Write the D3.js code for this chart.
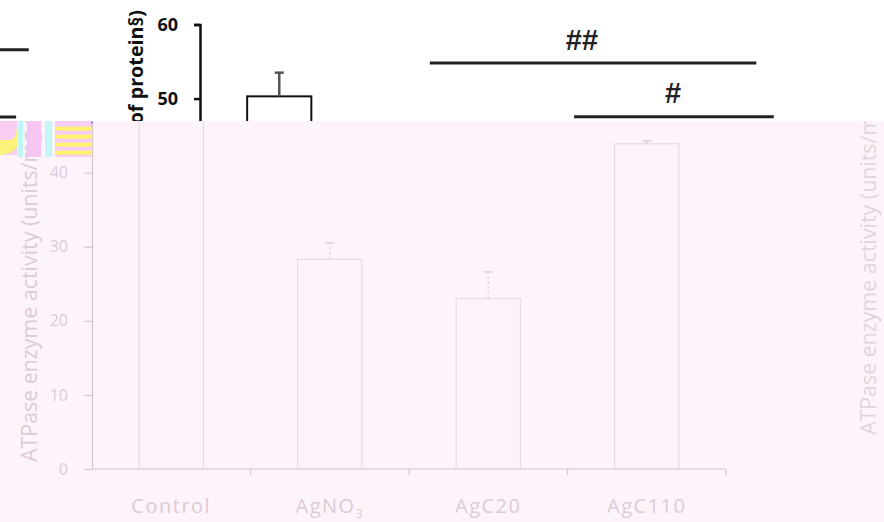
<!DOCTYPE html>
<html>
<head>
<meta charset="utf-8">
<script src="https://cdn.jsdelivr.net/npm/d3@7"></script>
<style>
  html, body { margin: 0; padding: 0; background: #ffffff; }
  svg { display: block; }
</style>
</head>
<body>
<svg id="chart" width="884" height="522"></svg>
<script>
// ---- data ----
const categories = ["Control", "AgNO3", "AgC20", "AgC110"];
const means = [50.3, 28.3, 23.0, 43.9];
const errors = [3.2, 2.2, 3.6, 0.4];
const yTicks = [0, 10, 20, 30, 40, 50, 60];
const yLabel = "ATPase enzyme activity (units/mg of protein§)";
// significance annotations (positions in category-index units and y units)
const sigFrom = [0.95, 1.86, -2.5, -2.5];
const sigTo = [3.01, 3.12, -1.58, -1.66];
const sigLevel = [54.8, 47.55, 56.6, 47.5];
const sigText = ["##", "#", "", ""];
const sigTextIdx = [1.91, 2.484, 0, 0];
const sigTextLevel = [57.9, 50.7, 0, 0];

const W = 884, H = 522, splitY = 121;
const svg = d3.select("#chart");
svg.append("rect").attr("width", W).attr("height", H).attr("fill", "#ffffff");

const defs = svg.append("defs");
defs.append("clipPath").attr("id", "clipTop").append("rect")
  .attr("x", 0).attr("y", 0).attr("width", W).attr("height", splitY);
defs.append("clipPath").attr("id", "clipBot").append("rect")
  .attr("x", 0).attr("y", splitY).attr("width", W).attr("height", H - splitY);

const y = d3.scaleLinear().domain([0, 60]).range([469, 24.5]);

// fit a text node to a target length by adjusting font size
function fitText(sel, target, base) {
  const n = sel.node();
  const len = n.getComputedTextLength();
  if (len > 0) sel.attr("font-size", base * target / len);
}

function drawChart(g, left, opts) {
  const x = d3.scaleBand().domain(categories).range([left, left + 634]).padding(0);
  const bw = x.bandwidth() * 0.405;
  const xi = d3.scaleLinear().domain([0, 1]).range([left + x.bandwidth() / 2, left + x.bandwidth() * 1.5]);
  const data = categories.map((c, i) => ({ c, m: means[i], e: errors[i] }));

  // y label
  const yl = g.append("text")
    .attr("transform", `translate(${left - opts.labelDx},236) rotate(-90)`)
    .attr("text-anchor", "middle").attr("dominant-baseline", "central")
    .attr("font-family", "'Open Sans', sans-serif")
    .attr("font-weight", opts.labelBold ? "bold" : "normal").attr("font-size", 17)
    .attr("fill", opts.text)
    .text(yLabel);
  fitText(yl, 452, 17);

  // y axis (only tick labels inside this layer's visible band are kept)
  const ya = g.append("g").attr("transform", `translate(${left},0)`)
    .call(d3.axisLeft(y).tickValues(yTicks).tickSize(opts.tickSize).tickPadding(opts.tickPad));
  ya.selectAll("path, line").attr("stroke", opts.axis).attr("stroke-width", opts.axisW);
  ya.selectAll(".tick").filter(d => !opts.visible(y(d))).select("text").remove();
  ya.selectAll("text").attr("fill", opts.text)
    .attr("font-family", "'Open Sans', sans-serif")
    .attr("font-weight", opts.tickBold ? "bold" : "normal")
    .attr("font-size", opts.tickFont);

  // x axis
  g.append("line").attr("x1", left).attr("x2", left + 634)
    .attr("y1", y(0)).attr("y2", y(0))
    .attr("stroke", opts.axis).attr("stroke-width", opts.axisW);
  g.selectAll(".xt").data(categories).enter().append("line")
    .attr("x1", d => x(d) + x.bandwidth()).attr("x2", d => x(d) + x.bandwidth())
    .attr("y1", y(0)).attr("y2", y(0) + 6)
    .attr("stroke", opts.axis).attr("stroke-width", opts.axisW);

  // category labels
  if (opts.visible(513)) {
    const lab = g.selectAll(".xl").data(categories).enter().append("text")
      .attr("x", d => x(d) + x.bandwidth() / 2).attr("y", 513)
      .attr("text-anchor", "middle")
      .attr("font-family", "'Open Sans', sans-serif")
      .attr("font-size", 20).attr("letter-spacing", 1.5)
      .attr("fill", opts.text);
    lab.each(function (d) {
      const t = d3.select(this);
      if (d === "AgNO3") {
        t.append("tspan").text("AgNO");
        t.append("tspan").attr("font-size", 12).attr("dy", 5).text("3");
      } else t.text(d);
    });
  }

  // bars
  g.selectAll(".bar").data(data).enter().append("rect")
    .attr("x", d => x(d.c) + x.bandwidth() / 2 - bw / 2)
    .attr("y", d => y(d.m))
    .attr("width", bw).attr("height", d => y(0) - y(d.m))
    .attr("fill", opts.barFill).attr("stroke", opts.bar).attr("stroke-width", opts.barW);

  // error bars
  g.selectAll(".eb").data(data).enter().append("line")
    .attr("x1", d => x(d.c) + x.bandwidth() / 2).attr("x2", d => x(d.c) + x.bandwidth() / 2)
    .attr("y1", d => y(d.m)).attr("y2", d => y(d.m + d.e))
    .attr("stroke", opts.err).attr("stroke-width", opts.errW)
    .attr("stroke-dasharray", opts.errDash);
  g.selectAll(".ec").data(data).enter().append("line")
    .attr("x1", d => x(d.c) + x.bandwidth() / 2 - 4.5).attr("x2", d => x(d.c) + x.bandwidth() / 2 + 4.5)
    .attr("y1", d => y(d.m + d.e)).attr("y2", d => y(d.m + d.e))
    .attr("stroke", opts.err).attr("stroke-width", opts.errW);

  // significance lines
  sigFrom.forEach((f, i) => {
    if (opts.sig === "none") return;
    g.append("line")
      .attr("x1", xi(f)).attr("x2", xi(sigTo[i]))
      .attr("y1", y(sigLevel[i])).attr("y2", y(sigLevel[i]))
      .attr("stroke", opts.sig).attr("stroke-width", 3);
    if (sigText[i]) {
      g.append("text")
        .attr("x", xi(sigTextIdx[i])).attr("y", y(sigTextLevel[i]))
        .attr("text-anchor", "middle").attr("dominant-baseline", "central")
        .attr("font-family", "'Liberation Sans', Arial, sans-serif")
        .attr("font-size", 29).attr("font-weight", "bold")
        .attr("fill", opts.sig)
        .text(sigText[i]);
    }
  });
}

// ---- crisp (top) layer ----
const gTop = svg.append("g").attr("clip-path", "url(#clipTop)");
drawChart(gTop, 200, {
  visible: v => v < splitY,
  labelDx: 65, labelBold: true, text: "#111", axis: "#111", axisW: 2.5, tickSize: 6, tickPad: 16,
  tickBold: true, tickFont: 18, bar: "#111", barW: 2, barFill: "#ffffff",
  err: "#555", errW: 2.5, errDash: null, sig: "#222"
});

// ---- faded (bottom) layer ----
svg.append("rect").attr("x", 0).attr("y", splitY).attr("width", W).attr("height", H - splitY)
  .attr("fill", "#fdf4fb");
const gBot = svg.append("g").attr("clip-path", "url(#clipBot)");
drawChart(gBot, 92, {
  visible: v => v >= splitY,
  labelDx: 64, labelBold: false, text: "#dccad5", axis: "#d8c3cf", axisW: 1.2, tickSize: 8, tickPad: 16,
  tickBold: false, tickFont: 16, bar: "#e6d7e0", barW: 1.1, barFill: "none",
  err: "#dccad5", errW: 1.4, errDash: "2,3", sig: "none"
});
// right-hand label of the neighbouring panel
const rl = gBot.append("text")
  .attr("transform", `translate(867,435) rotate(-90)`)
  .attr("text-anchor", "start").attr("dominant-baseline", "central")
  .attr("font-family", "'Open Sans', sans-serif")
  .attr("font-size", 17)
  .attr("fill", "#e3d3dc")
  .text(yLabel);
fitText(rl, 452, 17);

// ---- colour artefact strip at top-left ----
const art = svg.append("g");
art.append("rect").attr("x", 0).attr("y", 121).attr("width", 17).attr("height", 34).attr("fill", "#f7cdf1");
art.append("path").attr("d", "M0,140 L10,140 A7,14 0 0 0 17,128 L17,146 A17,12 0 0 1 0,155 Z").attr("fill", "#fbf27a");
art.append("rect").attr("x", 17.5).attr("y", 121).attr("width", 5.5).attr("height", 36).attr("fill", "#bff5f5");
art.append("rect").attr("x", 27).attr("y", 121).attr("width", 14).attr("height", 36).attr("fill", "#f7c5f2");
art.append("rect").attr("x", 45).attr("y", 121).attr("width", 7).attr("height", 36).attr("fill", "#c3f6f6");
art.append("rect").attr("x", 55).attr("y", 121).attr("width", 37).attr("height", 36).attr("fill", "#f7cdf3");
[126.7, 134.7, 142.7, 150.7].forEach(v => {
  art.append("rect").attr("x", 55).attr("y", v).attr("width", 37).attr("height", 4).attr("fill", "#fdf46e");
});
art.append("rect").attr("x", 91).attr("y", 121.5).attr("width", 2).attr("height", 2).attr("fill", "#8a8ae0");
</script>
</body>
</html>
